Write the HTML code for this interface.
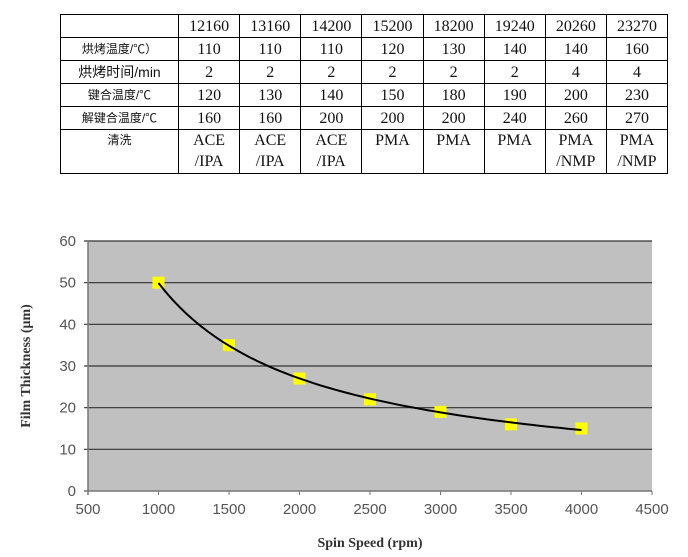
<!DOCTYPE html>
<html><head><meta charset="utf-8"><style>
body{margin:0;background:#fff;width:688px;height:557px;overflow:hidden;position:relative;font-family:"Liberation Serif","Noto Serif CJK SC",serif}
table{position:absolute;left:60px;top:14px;border-collapse:collapse;width:608px}
td{border:1px solid #000;text-align:center;font-size:16px;padding:0;height:22px;line-height:21px;color:#111}
td.h{font-size:12px;font-family:"Liberation Sans","Noto Sans CJK SC",sans-serif;width:117px}
tr.last td{height:43px;vertical-align:top}
</style></head><body>
<table>
<tr><td class="h"></td><td>12160</td><td>13160</td><td>14200</td><td>15200</td><td>18200</td><td>19240</td><td>20260</td><td>23270</td></tr>
<tr><td class="h">烘烤温度/℃）</td><td>110</td><td>110</td><td>110</td><td>120</td><td>130</td><td>140</td><td>140</td><td>160</td></tr>
<tr><td class="h" style="font-size:14px">烘烤时间/min</td><td>2</td><td>2</td><td>2</td><td>2</td><td>2</td><td>2</td><td>4</td><td>4</td></tr>
<tr><td class="h">键合温度/℃</td><td>120</td><td>130</td><td>140</td><td>150</td><td>180</td><td>190</td><td>200</td><td>230</td></tr>
<tr><td class="h">解键合温度/℃</td><td>160</td><td>160</td><td>200</td><td>200</td><td>200</td><td>240</td><td>260</td><td>270</td></tr>
<tr class="last"><td class="h">清洗</td><td>ACE<br>/IPA</td><td>ACE<br>/IPA</td><td>ACE<br>/IPA</td><td>PMA</td><td>PMA</td><td>PMA</td><td>PMA<br>/NMP</td><td>PMA<br>/NMP</td></tr>
</table>
<svg id="chart" width="688" height="557" style="position:absolute;left:0;top:0" font-family="Liberation Serif, serif"></svg>
<script>
const speeds=[1000,1500,2000,2500,3000,3500,4000];
const thickness=[50,35,27,22,19,16,15];
const xTicks=[500,1000,1500,2000,2500,3000,3500,4000,4500];
const yTicks=[0,10,20,30,40,50,60];
const svg=document.getElementById('chart');const NS='http://www.w3.org/2000/svg';
const X0=88,X1=652,Y0=491,Y1=241;
const xs=v=>X0+(v-500)/4000*(X1-X0), ys=v=>Y0-v/60*(Y0-Y1);
function mk(t,a,p){const e=document.createElementNS(NS,t);for(const k in a)e.setAttribute(k,a[k]);(p||svg).appendChild(e);return e;}
let r=mk('rect',{x:X0,y:Y1,width:X1-X0,height:Y0-Y1,fill:'#c0c0c0'});

yTicks.forEach(v=>{const l=mk('line',{x1:X0-4,x2:X1,y1:ys(v),y2:ys(v),stroke:v?'#333':'#777','stroke-width':v?1.2:1.5});

const t=mk('text',{x:X0-12,y:ys(v)+5,'text-anchor':'end','font-size':15,'font-family':'Liberation Sans, sans-serif',fill:'#555'});t.textContent=v;
});
mk('line',{x1:X0,x2:X0,y1:Y1,y2:Y0+4,stroke:'#777','stroke-width':1.5});
xTicks.forEach(v=>{mk('line',{x1:xs(v),x2:xs(v),y1:Y0,y2:Y0+4,stroke:'#777'});
const t=mk('text',{x:xs(v),y:Y0+23,'text-anchor':'middle','font-size':15,'font-family':'Liberation Sans, sans-serif',fill:'#555'});t.textContent=v;
});
let n=speeds.length,sx=0,sy=0,sxx=0,sxy=0;speeds.forEach((s,i)=>{const a=Math.log(s),b=Math.log(thickness[i]);sx+=a;sy+=b;sxx+=a*a;sxy+=a*b;});
const bb=(n*sxy-sx*sy)/(n*sxx-sx*sx),aa=Math.exp((sy-bb*sx)/n);
let d='';const smin=Math.min(...speeds),smax=Math.max(...speeds);
for(let i=0;i<=60;i++){const s=smin+(smax-smin)*i/60;d+=(i?'L':'M')+xs(s).toFixed(1)+','+ys(aa*Math.pow(s,bb)).toFixed(1);}
speeds.forEach((s,i)=>{const m=mk('rect',{x:xs(s)-6,y:ys(thickness[i])-6,width:12,height:12,fill:'#ffff00'});
});
const p=mk('path',{d:d,fill:'none',stroke:'#000','stroke-width':2});

let t=mk('text',{x:370,y:547,'text-anchor':'middle','font-size':14,'font-weight':'bold',fill:'#333'});t.textContent='Spin Speed (rpm)';

t=mk('text',{x:0,y:0,transform:'translate(30,366) rotate(-90)','text-anchor':'middle','font-size':14,'font-weight':'bold',fill:'#333'});t.textContent='Film Thickness (μm)';

</script>
</body></html>
